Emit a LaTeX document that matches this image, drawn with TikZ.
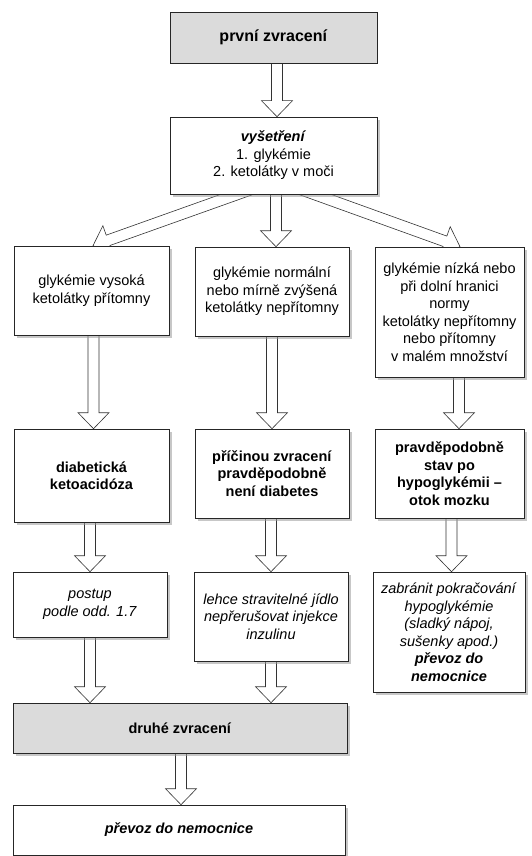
\documentclass[tikz,border=0pt]{standalone}
\usepackage{fontspec}
\setmainfont{Liberation Sans}
\usetikzlibrary{calc,shadows}
\pgfdeclarelayer{background}
\pgfsetlayers{background,main}
\newcommand\fatarr[2]{%
  \coordinate (fa) at #1;
  \coordinate (fb) at #2;
  \coordinate (fh) at ($(fb)!16pt!(fa)$);
  \filldraw[fat] ($(fa)!5.5pt!90:(fb)$) -- ($(fh)!5.5pt!90:(fb)$) -- ($(fh)!15.5pt!90:(fb)$)
    -- (fb) -- ($(fh)!15.5pt!-90:(fb)$) -- ($(fh)!5.5pt!-90:(fb)$) -- ($(fa)!5.5pt!-90:(fb)$);}
\begin{document}
\begin{tikzpicture}[x=1pt,y=-1pt,
  font=\fontsize{14.5}{17.5}\selectfont,
  box/.style={draw=black!85, line width=0.6pt, fill=white, align=center, inner sep=0pt},
  shadowed/.style={drop shadow={shadow xshift=3pt,shadow yshift=-3pt,fill=black!40,opacity=0.55}},
  greybox/.style={box, fill=black!14},
  fat/.style={draw=black!80, line width=0.6pt, fill=white}]
\useasboundingbox (0,0) rectangle (532,856);

\node[greybox, minimum width=207pt, minimum height=51pt, font=\fontsize{16}{19}\selectfont] (b1) at (273.5,37.5) {\textbf{první zvracení}};
\node[box, shadowed, minimum width=207pt, minimum height=77pt] (b2) at (273.5,155.5)
  {\textbf{\textit{vyšetření}}\\1. glykémie\\2. ketolátky v moči};

\node[box, shadowed, minimum width=155pt, minimum height=89pt] (r2a) at (91.5,290.5)
  {glykémie vysoká\\ketolátky přítomny};
\node[box, shadowed, minimum width=154pt, minimum height=89pt] (r2b) at (272,291.5)
  {glykémie normální\\nebo mírně zvýšená\\ketolátky nepřítomny};
\node[box, shadowed, minimum width=149pt, minimum height=130pt] (r2c) at (449.5,312)
  {glykémie nízká nebo\\při dolní hranici\\normy\\ketolátky nepřítomny\\nebo přítomny\\v malém množství};

\node[box, shadowed, minimum width=155pt, minimum height=93pt] (r3a) at (91.5,475.5)
  {\textbf{diabetická}\\\textbf{ketoacidóza}};
\node[box, shadowed, minimum width=154pt, minimum height=89pt] (r3b) at (272,473.5)
  {\textbf{příčinou zvracení}\\\textbf{pravděpodobně}\\\textbf{není diabetes}};
\node[box, shadowed, minimum width=149pt, minimum height=89pt] (r3c) at (449.5,473.5)
  {\textbf{pravděpodobně}\\\textbf{stav po}\\\textbf{hypoglykémii –}\\\textbf{otok mozku}};

\node[box, shadowed, minimum width=154pt, minimum height=65pt] (r4a) at (90,604.5)
  {\textit{postup}\\\textit{podle odd. 1.7}};
\node[box, shadowed, minimum width=154pt, minimum height=89pt] (r4b) at (271,616.5)
  {\textit{lehce stravitelné jídlo}\\\textit{nepřerušovat injekce}\\\textit{inzulinu}};
\node[box, shadowed, minimum width=152pt, minimum height=120pt] (r4c) at (449,632)
  {\textit{zabránit pokračování}\\\textit{hypoglykémie}\\\textit{(sladký nápoj,}\\\textit{sušenky apod.)}\\\textbf{\textit{převoz do}}\\\textbf{\textit{nemocnice}}};

\node[greybox, shadowed, minimum width=334pt, minimum height=50pt] (b5) at (180,728)
  {\textbf{druhé zvracení}};
\node[box, shadowed, minimum width=332pt, minimum height=50pt] (b6) at (179,830)
  {\textbf{\textit{převoz do nemocnice}}};

\begin{pgfonlayer}{background}
\fatarr{($(b1.south)+(3.5,0)$)}{($(b2.north)+(3.5,0)$)}
\fatarr{($(b2.south)+(-19.5,-6)$)}{($(r2a.north)+(1.5,0)$)}
\fatarr{($(b2.south)+(2.5,0)$)}{($(r2b.north)+(4,0)$)}
\fatarr{($(b2.south)+(24.5,-6)$)}{($(r2c.north)+(10.5,0)$)}
\fatarr{($(r2a.south)+(2,0)$)}{($(r3a.north)+(2,0)$)}
\fatarr{(r2b.south)}{(r3b.north)}
\fatarr{($(r2c.south)+(9.5,0)$)}{($(r3c.north)+(9.5,0)$)}
\fatarr{(r3a.south -| r4a.north)}{(r4a.north)}
\fatarr{(r3b.south -| r4b.north)}{(r4b.north)}
\fatarr{($(r3c.south)+(2,0)$)}{($(r4c.north)+(2.5,0)$)}
\fatarr{(r4a.south)}{(r4a.south |- b5.north)}
\fatarr{(r4b.south)}{(r4b.south |- b5.north)}
\fatarr{($(b5.south)+(1,0)$)}{($(b5.south |- b6.north)+(1,0)$)}
\end{pgfonlayer}
\end{tikzpicture}
\end{document}
